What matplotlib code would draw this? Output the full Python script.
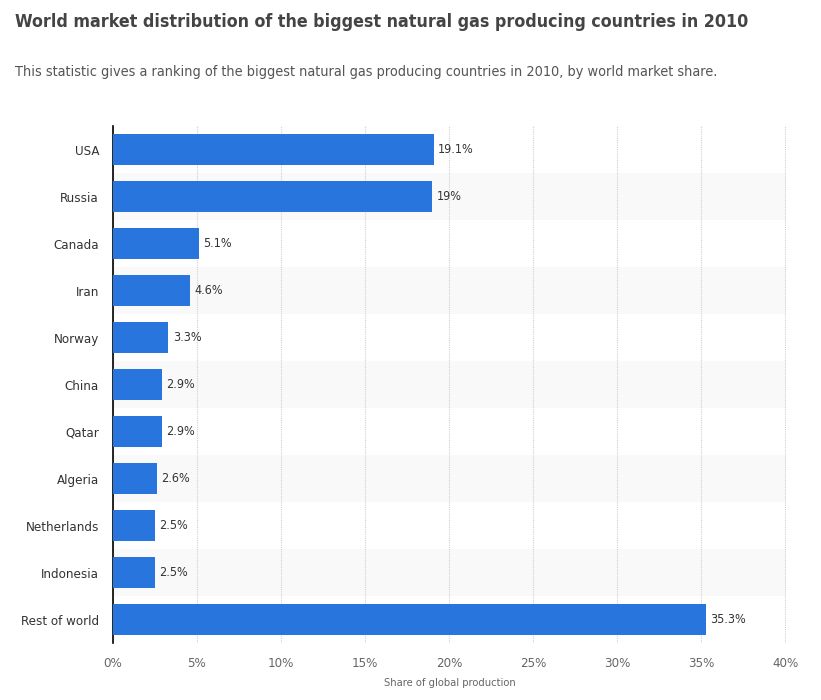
import matplotlib.pyplot as plt

countries = ['USA', 'Russia', 'Canada', 'Iran', 'Norway', 'China', 'Qatar',
             'Algeria', 'Netherlands', 'Indonesia', 'Rest of world']
shares = [19.1, 19.0, 5.1, 4.6, 3.3, 2.9, 2.9, 2.6, 2.5, 2.5, 35.3]
labels = ['19.1%', '19%', '5.1%', '4.6%', '3.3%', '2.9%', '2.9%', '2.6%',
          '2.5%', '2.5%', '35.3%']
xticks = [0, 5, 10, 15, 20, 25, 30, 35, 40]

title = 'World market distribution of the biggest natural gas producing countries in 2010'
subtitle = ('This statistic gives a ranking of the biggest natural gas producing '
            'countries in 2010, by world market share.')

plt.rcParams['font.family'] = ['DejaVu Sans']
plt.rcParams['font.stretch'] = 'condensed'

bar_color = '#2876dd'
band_color = '#f9f9f9'
text_dark = '#333333'
text_grey = '#666666'

fig = plt.figure(figsize=(8.21, 7.0), dpi=100)
ax = fig.add_axes([0.1376, 0.0814, 0.8197, 0.7386])

n = len(countries)
ypos = list(range(n))

# alternating row bands
for i in ypos:
    if i % 2 == 1:
        ax.axhspan(i - 0.5, i + 0.5, color=band_color, zorder=0, lw=0)

ax.barh(ypos, shares, height=0.68, color=bar_color, zorder=3)
for y, v, t in zip(ypos, shares, labels):
    ax.text(v + 0.25, y, t, va='center', ha='left', fontsize=9,
            color=text_dark, zorder=4)

ax.set_xlim(0, 40.05)
ax.set_ylim(n - 0.5, -0.5)
ax.set_xticks(xticks)
ax.set_xticklabels([f'{x}%' for x in xticks], fontsize=9.5, color=text_grey)
ax.set_yticks(ypos)
ax.set_yticklabels(countries, fontsize=9.5, color=text_dark)
ax.tick_params(length=0, pad=10)
ax.tick_params(axis='y', pad=10)
ax.xaxis.grid(True, linestyle=(0, (1, 1)), color='#d0d0d0', lw=0.8, zorder=1)
ax.set_axisbelow(True)
for s in ['top', 'right', 'bottom']:
    ax.spines[s].set_visible(False)
ax.spines['left'].set_color('#000000')
ax.spines['left'].set_linewidth(1.2)
ax.set_xlabel('Share of global production', fontsize=8, color=text_grey,
              labelpad=6)

t1 = fig.text(0.018, 0.968, title, fontsize=15, fontweight='bold',
              color='#444444', va='center', ha='left')
t2 = fig.text(0.018, 0.897, subtitle, fontsize=11.5, color='#555555',
              va='center', ha='left')

# shrink header texts to the widths they take in the reference
fig.canvas.draw()
r = fig.canvas.get_renderer()
for txt, target in [(t1, 733), (t2, 703)]:
    w = txt.get_window_extent(r).width
    if w > target:
        txt.set_fontsize(txt.get_fontsize() * target / w)

fig.savefig('out.png', dpi=100, facecolor='white')
